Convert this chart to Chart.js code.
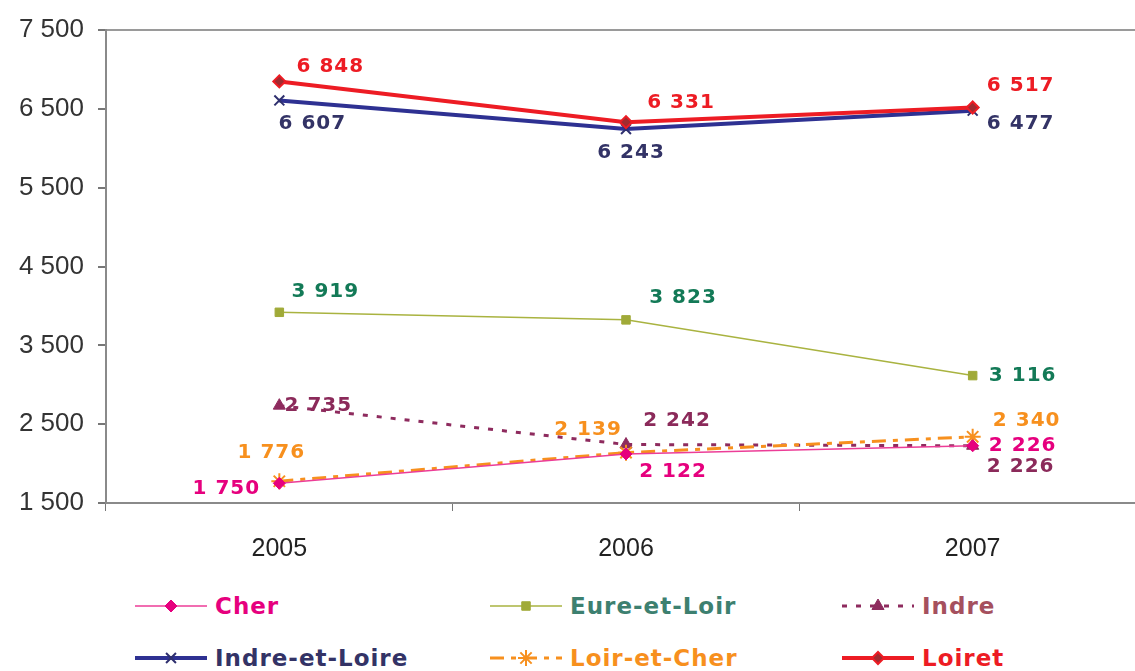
<!DOCTYPE html>
<html lang="fr">

<head>
    <meta charset="UTF-8">
    <title>Évolution par département</title>
    <script src="https://cdn.jsdelivr.net/npm/chart.js"></script>
    <style>
        body {
            margin: 0;
            background: #ffffff;
            overflow: hidden;
            width: 1135px;
            height: 671px;
            position: relative;
        }

        #zone {
            position: absolute;
            left: 0;
            top: 0;
        }

        .leg {
            position: absolute;
            height: 24px;
            display: flex;
            align-items: center;
            font-family: "DejaVu Sans", sans-serif;
            font-weight: bold;
            font-size: 23px;
            letter-spacing: 1px;
            white-space: nowrap;
        }

        .leg canvas {
            margin-right: 8px;
        }
    </style>
</head>

<body>
    <canvas id="zone" width="1156" height="580"></canvas>
    <div id="legende"></div>
</body>

</html>

<script>

    // données
    var annees = ['2005', '2006', '2007'];
    var cher = [1750, 2122, 2226];
    var eureEtLoir = [3919, 3823, 3116];
    var indre = [2735, 2242, 2226];
    var indreEtLoire = [6607, 6243, 6477];
    var loirEtCher = [1776, 2139, 2340];
    var loiret = [6848, 6331, 6517];

    var yMin = 1500;
    var yMax = 7500;
    var yPas = 1000;

    function formater(v) {
        return String(v).replace(/\B(?=(\d{3})+(?!\d))/g, ' ');
    }

    var series = [
        {
            label: 'Cher', data: cher, borderColor: '#ec3d97', backgroundColor: '#e6007e',
            borderWidth: 1.5, pointStyle: 'rectRot', pointRadius: 6, pointBorderWidth: 1,
            pointBorderColor: '#e6007e', order: 1,
            couleurTexte: '#e6007e', couleurLegende: '#e6007e',
            decalages: [[-53, 6], [47, 18], [50, 0]]
        },
        {
            label: 'Eure-et-Loir', data: eureEtLoir, borderColor: '#a9b340', backgroundColor: '#a0aa38',
            borderWidth: 1.5, pointStyle: 'rect', pointRadius: 6, pointBorderWidth: 1,
            pointBorderColor: '#a0aa38', order: 5,
            couleurTexte: '#137a57', couleurLegende: '#3d8070',
            decalages: [[46, -21], [57, -22], [50, 0]]
        },
        {
            label: 'Indre', data: indre, borderColor: '#8e2b5e', backgroundColor: '#8e2b5e',
            borderWidth: 3, borderDash: [5, 9], pointStyle: 'triangle', pointRadius: 7, pointBorderWidth: 1,
            pointBorderColor: '#8e2b5e', order: 4,
            couleurTexte: '#8b2a5a', couleurLegende: '#a5505e',
            decalages: [[39, 0], [51, -24], [48, 21]]
        },
        {
            label: 'Indre-et-Loire', data: indreEtLoire, borderColor: '#2e3192', backgroundColor: '#2e3192',
            borderWidth: 4, pointStyle: 'crossRot', pointRadius: 7, pointBorderWidth: 2,
            pointBorderColor: '#2e2f6e', order: 3,
            couleurTexte: '#333366', couleurLegende: '#333366',
            decalages: [[33, 23], [5, 24], [48, 13]]
        },
        {
            label: 'Loir-et-Cher', data: loirEtCher, borderColor: '#f7901e', backgroundColor: '#f7901e',
            borderWidth: 3, borderDash: [14, 7, 5, 7], pointStyle: 'star', pointRadius: 8, pointBorderWidth: 2,
            pointBorderColor: '#f7901e', order: 2,
            couleurTexte: '#f7901e', couleurLegende: '#f7901e',
            decalages: [[-8, -28], [-38, -23], [54, -16]]
        },
        {
            label: 'Loiret', data: loiret, borderColor: '#ed1c24', backgroundColor: '#a12a30',
            borderWidth: 4, pointStyle: 'rectRot', pointRadius: 6, pointBorderWidth: 2,
            pointBorderColor: '#ed1c24', order: 0,
            couleurTexte: '#ed1c24', couleurLegende: '#ed1c24',
            decalages: [[51, -15], [55, -19], [48, -22]]
        }
    ];

    // étiquettes de valeurs à côté de chaque point
    var etiquettes = {
        id: 'etiquettes',
        afterDatasetsDraw: function (chart) {
            var ctx = chart.ctx;
            ctx.save();
            ctx.font = 'bold 20px "DejaVu Sans", sans-serif';
            ctx.letterSpacing = '1px';
            ctx.textAlign = 'center';
            ctx.textBaseline = 'middle';
            chart.data.datasets.forEach(function (ds, i) {
                var meta = chart.getDatasetMeta(i);
                meta.data.forEach(function (pt, j) {
                    ctx.fillStyle = ds.couleurTexte;
                    ctx.fillText(formater(ds.data[j]), pt.x + ds.decalages[j][0], pt.y + ds.decalages[j][1]);
                });
            });
            ctx.restore();
        }
    };

    const ctx = document.getElementById('zone');

    new Chart(ctx, {
        type: 'line',
        data: {
            labels: annees,
            datasets: series.map(function (s) {
                return Object.assign({ fill: false, tension: 0, pointBackgroundColor: s.backgroundColor }, s);
            })
        },
        options: {
            responsive: false,
            animation: false,
            layout: { padding: { top: 30, left: 0, right: 0, bottom: 0 } },
            scales: {
                x: {
                    offset: true,
                    afterFit: function (s) { s.height = 77; },
                    grid: {
                        offset: true,
                        drawOnChartArea: false,
                        tickLength: 8,
                        tickColor: '#777777'
                    },
                    border: { color: '#8a8a8a', width: 2 },
                    ticks: {
                        color: '#222222',
                        padding: 23,
                        font: { family: '"Liberation Sans", Arial, sans-serif', size: 25 }
                    }
                },
                y: {
                    min: yMin,
                    max: yMax,
                    afterFit: function (s) { s.width = 106; },
                    grid: {
                        color: function (c) { return c.tick && c.tick.value === yMax ? '#9a9a9a' : 'rgba(0,0,0,0)'; },
                        lineWidth: 2,
                        tickLength: 8,
                        tickColor: '#777777'
                    },
                    border: { color: '#8a8a8a', width: 2 },
                    ticks: {
                        stepSize: yPas,
                        color: '#333333',
                        padding: 14,
                        font: { family: '"Liberation Sans", Arial, sans-serif', size: 26 },
                        callback: function (v) { return formater(v); }
                    }
                }
            },
            plugins: {
                legend: { display: false },
                tooltip: { enabled: false }
            }
        },
        plugins: [etiquettes]
    });

    // légende en trois colonnes
    var colonnes = [135, 490, 842];
    var lignes = [594, 646];
    var legende = document.getElementById('legende');
    series.forEach(function (s, i) {
        var item = document.createElement('div');
        item.className = 'leg';
        item.style.left = colonnes[i % 3] + 'px';
        item.style.top = lignes[Math.floor(i / 3)] + 'px';
        item.style.color = s.couleurLegende;

        var c = document.createElement('canvas');
        c.width = 72;
        c.height = 24;
        var g = c.getContext('2d');
        g.strokeStyle = s.borderColor;
        g.lineWidth = s.borderWidth;
        g.setLineDash(s.borderDash || []);
        g.beginPath();
        g.moveTo(0, 12);
        g.lineTo(72, 12);
        g.stroke();
        g.setLineDash([]);
        g.fillStyle = s.backgroundColor;
        g.strokeStyle = s.pointBorderColor;
        g.lineWidth = s.pointBorderWidth;
        Chart.helpers.drawPoint(g, { pointStyle: s.pointStyle, radius: s.pointRadius, rotation: 0, borderWidth: s.pointBorderWidth }, 36, 12);

        var t = document.createElement('span');
        t.textContent = s.label;
        item.appendChild(c);
        item.appendChild(t);
        legende.appendChild(item);
    });

</script>
